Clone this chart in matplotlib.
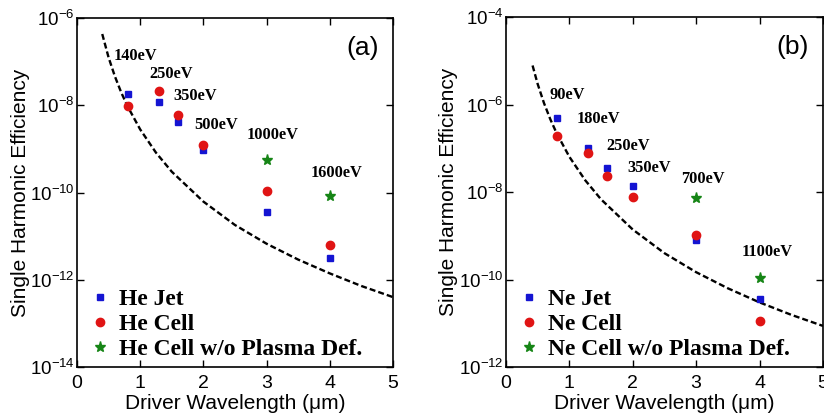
import numpy as np
import matplotlib
matplotlib.use("Agg")
import matplotlib.pyplot as plt
from matplotlib.ticker import NullLocator
from matplotlib.font_manager import FontProperties

plt.rcParams["font.family"] = "Liberation Sans"
plt.rcParams["mathtext.default"] = "regular"
plt.rcParams["lines.scale_dashes"] = False

# driver wavelengths (um)
wl = [0.8, 1.3, 1.6, 2.0, 3.0, 4.0]
wl_np = [3.0, 4.0]

# panel (a): helium
he_jet = [1.8e-8, 1.2e-8, 4.1e-9, 9.3e-10, 3.5e-11, 3.2e-12]
he_cell = [9.6e-9, 2.1e-8, 6.0e-9, 1.26e-9, 1.07e-10, 6.3e-12]
he_cell_np = [5.7e-10, 8.3e-11]
he_curve_x = [0.4, 0.5, 0.6, 0.7, 0.8, 1.0, 1.25, 1.5, 2.0, 2.5, 3.0, 3.5, 4.0, 4.5, 5.0]
he_curve_y = [4.3e-7, 1.25e-7, 4.6e-8, 1.97e-8, 9.5e-9, 2.8e-9, 8.2e-10, 3.0e-10,
              6.2e-11, 1.8e-11, 6.7e-12, 2.9e-12, 1.4e-12, 7.2e-13, 4.0e-13]
he_energy = ["140eV", "250eV", "350eV", "500eV", "1000eV", "1600eV"]
he_energy_pos = [(0.585, 1.35e-7), (1.14, 5.2e-8), (1.53, 1.6e-8),
                 (1.85, 3.6e-9), (2.68, 2.1e-9), (3.70, 2.8e-10)]

# panel (b): neon
ne_jet = [4.8e-7, 1.0e-7, 3.5e-8, 1.4e-8, 8.0e-10, 3.5e-11]
ne_cell = [1.9e-7, 7.8e-8, 2.3e-8, 7.7e-9, 1.05e-9, 1.1e-11]
ne_cell_np = [7.4e-9, 1.07e-10]
ne_curve_x = [0.42, 0.5, 0.6, 0.7, 0.8, 1.0, 1.25, 1.5, 2.0, 2.5, 3.0, 3.5, 4.0, 4.5, 5.0]
ne_curve_y = [7.8e-6, 2.96e-6, 1.08e-6, 4.6e-7, 2.2e-7, 6.4e-8, 1.86e-8, 6.8e-9,
              1.39e-9, 4.0e-10, 1.47e-10, 6.3e-11, 3.0e-11, 1.56e-11, 8.7e-12]
ne_energy = ["90eV", "180eV", "250eV", "350eV", "700eV", "1100eV"]
ne_energy_pos = [(0.683, 1.65e-6), (1.11, 4.6e-7), (1.58, 1.15e-7),
                 (1.91, 3.6e-8), (2.77, 2.0e-8), (3.71, 4.2e-10)]

blue = "#1414d2"
red = "#e01414"
green = "#168516"

fig = plt.figure(figsize=(8.24, 4.17), dpi=100)
ax_a = fig.add_axes([0.0934, 0.1199, 0.3835, 0.8369])
ax_b = fig.add_axes([0.614, 0.1199, 0.3847, 0.8393])

legend_font = FontProperties(family="Liberation Serif", weight="bold", size=17)


def draw_panel(ax, gas, jet, cell, cell_np, cx, cy, energy, epos, ylim, panel):
    ax.plot(cx, cy, color="black", lw=1.7, dashes=(4.3, 2.2))
    ax.plot(wl, jet, ls="none", marker="s", ms=5, color=blue, label=gas + " Jet")
    ax.plot(wl, cell, ls="none", marker="o", ms=6, color=red, label=gas + " Cell")
    ax.plot(wl_np, cell_np, ls="none", marker="*", ms=8, color=green,
            label=gas + " Cell w/o Plasma Def.")
    for txt, (x, y) in zip(energy, epos):
        ax.text(x, y, txt, ha="left", va="center", fontsize=11.8,
                family="Liberation Serif", weight="bold")
    ax.text(0.852, 0.915, panel, transform=ax.transAxes, fontsize=19,
            ha="left", va="center")

    ax.set_yscale("log")
    ax.set_xlim(0, 5)
    ax.set_ylim(*ylim)
    lo, hi = np.log10(ylim)
    ax.set_yticks(10.0 ** np.arange(lo, hi + 1, 2))
    ax.yaxis.set_minor_locator(NullLocator())
    ax.set_xticks([0, 1, 2, 3, 4, 5])
    ax.tick_params(direction="in", top=True, right=True, length=5,
                   labelsize=14, width=1)
    ax.tick_params(axis="x", pad=5.5)
    ax.tick_params(axis="y", labelsize=13.5, pad=1.5)
    for s in ax.spines.values():
        s.set_linewidth(1.2)

    ax.set_xlabel("Driver Wavelength (\u03bcm)", fontsize=15)
    ax.set_ylabel("Single Harmonic Efficiency", fontsize=15)
    ax.xaxis.set_label_coords(0.5, -0.077)
    ax.yaxis.set_label_coords(-0.15, 0.5)

    ax.legend(loc="lower left", bbox_to_anchor=(0.05, 0.02), frameon=False,
              prop=legend_font, handlelength=0.6, handletextpad=0.5,
              labelspacing=0.15, borderpad=0, borderaxespad=0, numpoints=1)


draw_panel(ax_a, "He", he_jet, he_cell, he_cell_np, he_curve_x, he_curve_y,
           he_energy, he_energy_pos, (1e-14, 1e-6), "(a)")
draw_panel(ax_b, "Ne", ne_jet, ne_cell, ne_cell_np, ne_curve_x, ne_curve_y,
           ne_energy, ne_energy_pos, (1e-12, 1e-4), "(b)")

fig.savefig("out.png", dpi=100)
